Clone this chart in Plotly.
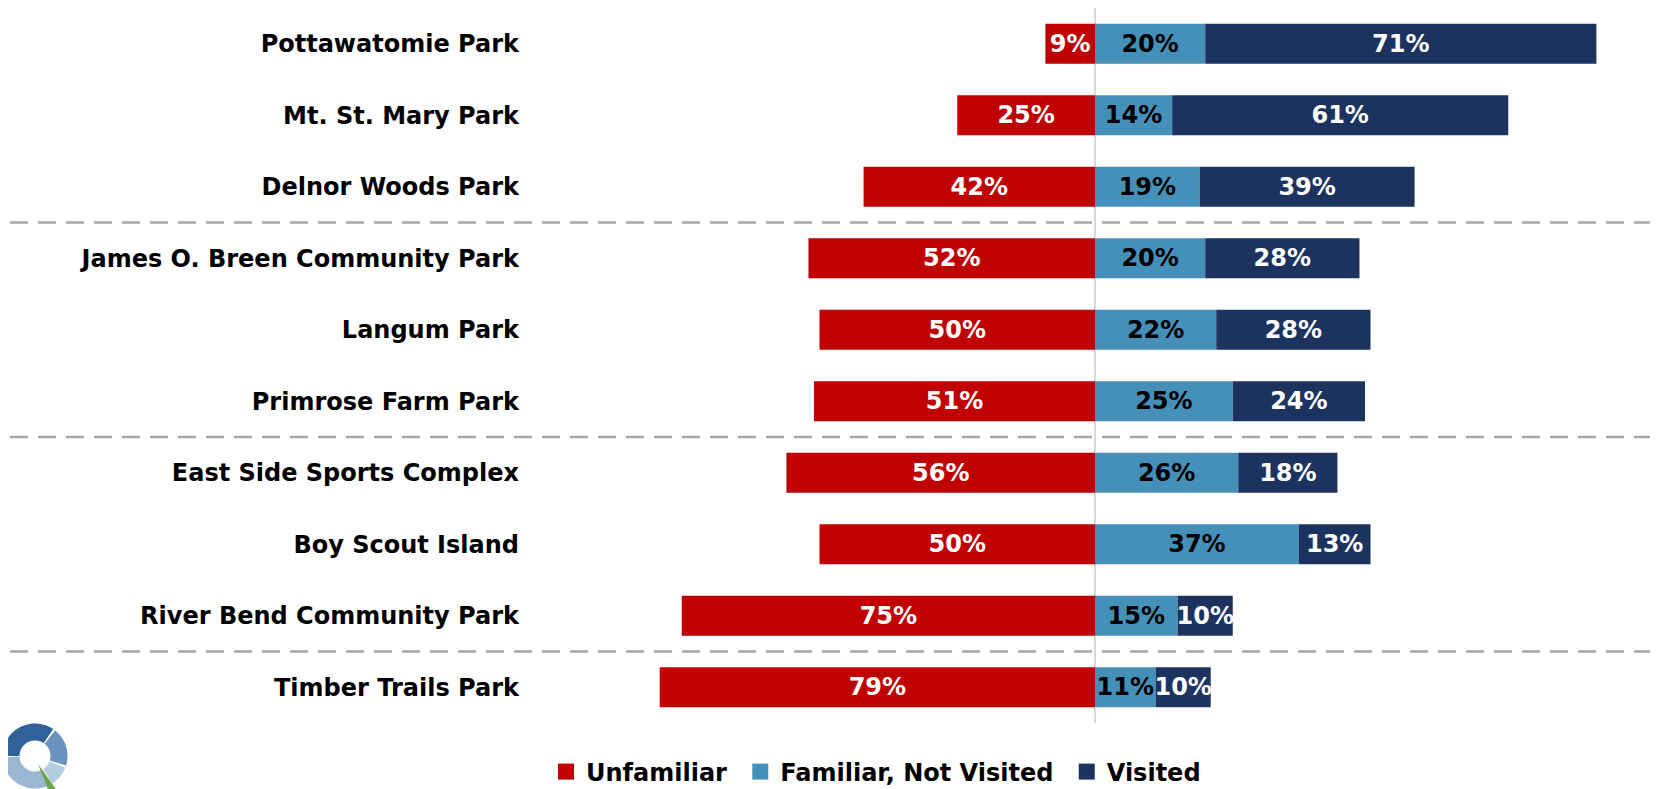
import math
import plotly.graph_objects as go

parks = [
    "Pottawatomie Park",
    "Mt. St. Mary Park",
    "Delnor Woods Park",
    "James O. Breen Community Park",
    "Langum Park",
    "Primrose Farm Park",
    "East Side Sports Complex",
    "Boy Scout Island",
    "River Bend Community Park",
    "Timber Trails Park",
]
unfamiliar = [9, 25, 42, 52, 50, 51, 56, 50, 75, 79]
familiar_not_visited = [20, 14, 19, 20, 22, 25, 26, 37, 15, 11]
visited = [71, 61, 39, 28, 28, 24, 18, 13, 10, 10]
series_names = ["Unfamiliar", "Familiar, Not Visited", "Visited"]

FONT = "DejaVu Sans, sans-serif"
RED = "#C00000"
LIGHT = "#4590B9"
NAVY = "#1C3360"
colors = [RED, LIGHT, NAVY]
label_colors = ["white", "black", "white"]

# the page body adds an 8px offset; figure coordinates = page coordinates - 8
OFF = 8
W, H = 1658 - OFF, 789 - OFF
ML, MR, MT, MB = 544 - OFF, 12, 0, 66
PW = W - ML - MR
PH = H - MT - MB

fig = go.Figure()
for name, vals, sign, col, lcol in zip(series_names,
                                       [unfamiliar, familiar_not_visited, visited],
                                       [-1, 1, 1], colors, label_colors):
    fig.add_trace(go.Bar(
        y=parks, x=[sign * v for v in vals], orientation="h", name=name,
        marker=dict(color=col, line=dict(width=0)),
        text=[f"{v}%" for v in vals], textposition="inside", insidetextanchor="middle",
        textangle=0, constraintext="none", cliponaxis=False, showlegend=False,
        textfont=dict(family=FONT, size=24, color=lcol, weight="bold"),
    ))
# legend entries with larger square keys
legend_labels = [series_names[0] + "\u00a0", series_names[1] + "\u00a0", series_names[2]]
for name, col in zip(legend_labels, colors):
    fig.add_trace(go.Scatter(
        x=[None], y=[None], mode="markers", name=name,
        marker=dict(symbol="square", size=17, color=col),
        showlegend=True,
    ))

def px_x(page_px):
    return (page_px - OFF - ML) / PW

def px_y(page_py):
    return (MT + PH - (page_py - OFF)) / PH

shapes = []
for yb in [2.5, 5.5, 8.5]:
    shapes.append(dict(type="line", xref="paper", yref="y", x0=px_x(10), x1=px_x(1700),
                       y0=yb, y1=yb, line=dict(color="#A6A6A6", width=2.5, dash="18px,10px"),
                       layer="below"))

# logo (decorative donut)
def ring(r0, r1, a0, a1, n=30):
    pts = []
    for i in range(n + 1):
        a = math.radians(a0 + (a1 - a0) * i / n)
        pts.append((r1 * math.cos(a), r1 * math.sin(a)))
    for i in range(n + 1):
        a = math.radians(a1 - (a1 - a0) * i / n)
        pts.append((r0 * math.cos(a), r0 * math.sin(a)))
    return "M " + " L ".join(f"{x:.2f},{y:.2f}" for x, y in pts) + " Z"

cx, cy = px_x(35), px_y(756)
for (a0, a1, col) in [(56, 180, "#2E6298"), (-17, 52, "#6A93BE"), (-58, -21, "#B4CCDF"), (182, 298, "#9BB6D2")]:
    shapes.append(dict(type="path", xref="paper", yref="paper", xsizemode="pixel", ysizemode="pixel",
                       xanchor=cx, yanchor=cy, path=ring(15.5, 32.5, a0, a1),
                       fillcolor=col, line=dict(width=0)))
shapes.append(dict(type="path", xref="paper", yref="paper", xsizemode="pixel", ysizemode="pixel",
                   xanchor=cx, yanchor=cy, path="M 3,-8 L 14,-36 L 23,-36 Z",
                   fillcolor="#6CA548", line=dict(width=0)))

fig.update_layout(
    width=W, height=H,
    margin=dict(l=ML, r=MR, t=MT, b=MB, autoexpand=False),
    barmode="relative",
    bargap=0.44,
    plot_bgcolor="white", paper_bgcolor="white",
    font=dict(family=FONT, size=24, color="black"),
    uniformtext=dict(minsize=24, mode="show"),
    xaxis=dict(range=[-100, 100], showgrid=False, showticklabels=False, ticks="",
               zeroline=True, zerolinecolor="#D9D9D9", zerolinewidth=2, fixedrange=True),
    yaxis=dict(categoryorder="array", categoryarray=parks, autorange="reversed",
               showgrid=False, ticks="", ticklabelstandoff=24, automargin=False,
               tickfont=dict(family=FONT, size=24, color="black", weight="bold")),
    legend=dict(orientation="h", x=px_x(876), xanchor="center", y=px_y(772), yanchor="middle",
                font=dict(family=FONT, size=24, color="black", weight="bold"),
                traceorder="normal", itemwidth=30, tracegroupgap=0),
    showlegend=True,
    shapes=shapes,
)

fig.write_html("out.html")
